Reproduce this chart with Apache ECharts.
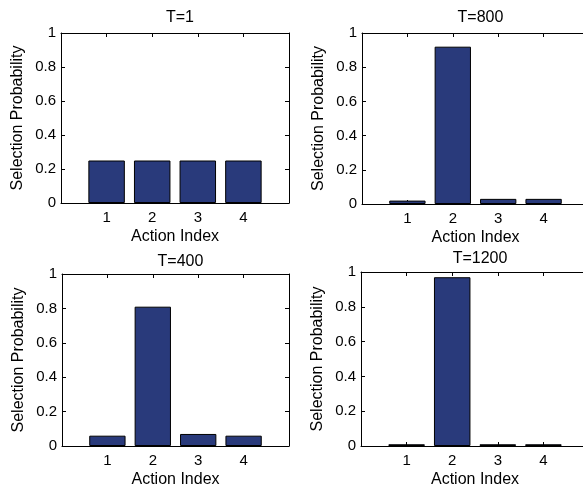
<!DOCTYPE html>
<html>
<head>
<meta charset="utf-8">
<script src="https://cdn.jsdelivr.net/npm/echarts@6/dist/echarts.min.js"></script>
<style>html,body{margin:0;padding:0;background:#fff;overflow:hidden;width:583px;height:489px}#c{width:600px;height:489px}</style>
</head>
<body>
<div id="c"></div>
<script>
const categories = [1, 2, 3, 4];
const titles = ['T=1', 'T=800', 'T=400', 'T=1200'];
const probT1 = [0.25, 0.25, 0.25, 0.25];
const probT800 = [0.02, 0.92, 0.03, 0.03];
const probT400 = [0.06, 0.81, 0.07, 0.06];
const probT1200 = [0.01, 0.97, 0.01, 0.01];
const panelData = [probT1, probT800, probT400, probT1200];
const xLabel = 'Action Index';
const yLabel = 'Selection Probability';

const grids = [
  {left: 61, top: 33, width: 228, height: 170},
  {left: 362, top: 33, width: 227, height: 171},
  {left: 62, top: 274, width: 227, height: 172},
  {left: 361, top: 272, width: 228, height: 174}
];
const titleTops = [5, 5, 249, 246];
const FONT = 'Liberation Sans, Arial, Helvetica, sans-serif';

const option = {
  backgroundColor: '#fff',
  animation: false,
  textStyle: {fontFamily: FONT},
  title: [], grid: [], xAxis: [], yAxis: [], series: []
};

grids.forEach((g, i) => {
  option.grid.push(Object.assign({containLabel: false, show: false}, g));
  option.title.push({
    text: titles[i], left: g.left + g.width / 2, top: titleTops[i], textAlign: 'center',
    textStyle: {fontSize: 16, fontWeight: 'normal', color: '#000', fontFamily: FONT}
  });
  const lineStyle = {color: '#000', width: 1};
  option.xAxis.push({
    type: 'value', gridIndex: i, min: 0, max: 5, interval: 1, position: 'bottom',
    axisLine: {show: true, lineStyle}, axisTick: {show: true, inside: true, length: 4, lineStyle},
    axisLabel: {margin: 7, fontSize: 15, color: '#000', fontFamily: FONT,
      formatter: v => (categories.indexOf(v) >= 0 ? String(v) : '')},
    splitLine: {show: false},
    name: xLabel, nameLocation: 'middle', nameGap: 26,
    nameTextStyle: {fontSize: 16, color: '#000', fontFamily: FONT, verticalAlign: 'top'}
  });
  option.xAxis.push({
    type: 'value', gridIndex: i, min: 0, max: 5, interval: 1, position: 'top',
    axisLine: {show: true, onZero: false, lineStyle}, axisTick: {show: true, inside: true, length: 4, lineStyle},
    axisLabel: {show: false}, splitLine: {show: false}
  });
  option.yAxis.push({
    type: 'value', gridIndex: i, min: 0, max: 1, interval: 0.2, position: 'left',
    axisLine: {show: true, onZero: false, lineStyle}, axisTick: {show: true, inside: true, length: 4, lineStyle},
    axisLabel: {margin: 5, fontSize: 15, color: '#000', fontFamily: FONT},
    splitLine: {show: false},
    name: yLabel, nameLocation: 'middle', nameGap: 35,
    nameTextStyle: {fontSize: 16, color: '#000', fontFamily: FONT}
  });
  option.yAxis.push({
    type: 'value', gridIndex: i, min: 0, max: 1, interval: 0.2, position: 'right',
    axisLine: {show: true, onZero: false, lineStyle}, axisTick: {show: true, inside: true, length: 4, lineStyle},
    axisLabel: {show: false}, splitLine: {show: false}
  });
  option.series.push({
    type: 'bar', xAxisIndex: i * 2, yAxisIndex: i * 2,
    barWidth: '80%',
    data: categories.map((c, k) => [c, panelData[i][k]]),
    itemStyle: {color: '#293a7b', borderColor: '#000', borderWidth: 1},
    z: 1
  });
});

const chart = echarts.init(document.getElementById('c'), null, {renderer: 'canvas'});
chart.setOption(option);
</script>
</body>
</html>
